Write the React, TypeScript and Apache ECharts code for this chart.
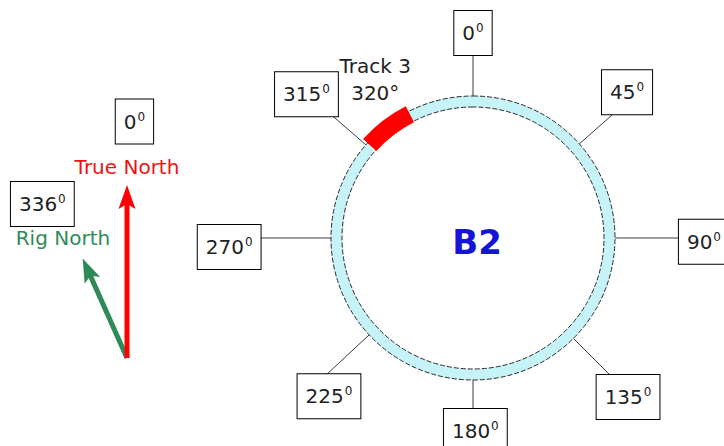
import React, { useEffect, useRef } from 'react';
import * as echarts from 'echarts';

// ---- data ----
const bearings = [0, 45, 90, 135, 180, 225, 270, 315];
const bearingLabels = ['0', '45', '90', '135', '180', '225', '270', '315'];
const trackName = 'Track 3';
const trackBearing = 320;
const wellName = 'B2';
const trueNorthBearing = 0;
const rigNorthBearing = 336;
const northLabels = ['True North', 'Rig North'];

// ---- layout (pixels / drawing tweaks) ----
const FONT = 'DejaVu Sans';
const CENTER = [473, 238];
const RING = [131, 142];
const labelRadius = [205, 212, 231, 222, 193, 214, 244, 220];
const labelAngleShift = [0, 1.6, 0.9, 0.7, -0.7, -2.7, -2.1, -4.2];
const spokeAngleShift = [0, 3.5, 0, 0, 0, 2, 0, -4];
const trackArc = [-8, 13];
const TRACK_RING = [130, 148];
const ARROW_BASE = [127, 358];
const trueNorthLen = 173;
const rigNorthLen = 109;
const HEAD = 'path://M0,0L9,24L0,19L-9,24Z';

const boxLabel = (fs = 20) => ({
  show: true,
  position: 'inside',
  backgroundColor: '#fff',
  borderColor: '#000',
  borderWidth: 1,
  padding: [11, 8, 11, 8],
  formatter: (p: any) => `{n|${p.name}}{s|0}`,
  rich: {
    n: { fontFamily: FONT, fontSize: fs, lineHeight: 22, color: '#222' },
    s: { fontFamily: FONT, fontSize: 12, lineHeight: 12, verticalAlign: 'top', color: '#222', padding: [0, 0, 0, 1] },
  },
});

const hidden = { color: 'rgba(0,0,0,0)', opacity: 1 };

export default function App() {
  const ref = useRef<HTMLDivElement>(null);
  useEffect(() => {
    if (!ref.current) return;
    const chart = echarts.init(ref.current, undefined, { renderer: 'svg' });

    const spokeSeries = bearings.map((b, i) => ({
      type: 'line',
      coordinateSystem: 'polar',
      polarIndex: 0,
      symbol: 'none',
      silent: true,
      z: 1,
      lineStyle: { color: '#3a3a3a', width: 1 },
      data: [
        [RING[1], b + spokeAngleShift[i]],
        [labelRadius[i], b + spokeAngleShift[i]],
      ],
    }));

    const trackStart = trackBearing + trackArc[0];
    const trackSpan = trackArc[1] - trackArc[0];
    const pieStart = (((90 - trackStart) % 360) + 360) % 360;

    const option: any = {
      animation: false,
      backgroundColor: '#fff',
      polar: [
        { center: CENTER, radius: 260 },
        { center: ARROW_BASE, radius: 260 },
      ],
      angleAxis: [
        { polarIndex: 0, type: 'value', min: 0, max: 360, startAngle: 90, clockwise: true, show: false },
        { polarIndex: 1, type: 'value', min: 0, max: 360, startAngle: 90, clockwise: true, show: false },
      ],
      radiusAxis: [
        { polarIndex: 0, type: 'value', min: 0, max: 260, show: false },
        { polarIndex: 1, type: 'value', min: 0, max: 260, show: false },
      ],
      series: [
        ...spokeSeries,
        {
          type: 'pie',
          center: CENTER,
          radius: RING,
          silent: true,
          z: 2,
          label: { show: false },
          labelLine: { show: false },
          itemStyle: { color: '#c6f3f7', borderColor: '#2a2a2a', borderWidth: 1, borderType: [5, 2] },
          data: [{ value: 1, name: 'ring' }],
        },
        {
          type: 'pie',
          center: CENTER,
          radius: TRACK_RING,
          startAngle: pieStart,
          clockwise: true,
          silent: true,
          z: 3,
          label: { show: false },
          labelLine: { show: false },
          data: [
            { value: trackSpan, name: trackName, itemStyle: { color: '#ff0000' } },
            { value: 360 - trackSpan, name: 'rest', itemStyle: { color: 'rgba(0,0,0,0)' } },
          ],
        },
        {
          type: 'scatter',
          coordinateSystem: 'polar',
          polarIndex: 0,
          symbolSize: 1,
          itemStyle: hidden,
          silent: true,
          z: 5,
          label: boxLabel(),
          data: bearings.map((b, i) => ({ name: bearingLabels[i], value: [labelRadius[i], b + labelAngleShift[i]] })),
        },
        {
          type: 'scatter',
          coordinateSystem: 'polar',
          polarIndex: 0,
          symbolSize: 1,
          itemStyle: hidden,
          silent: true,
          z: 5,
          label: {
            show: true,
            position: 'inside',
            fontFamily: FONT,
            fontSize: 20,
            lineHeight: 27,
            color: '#222',
            formatter: `${trackName}\n${trackBearing}°`,
          },
          data: [[186, 328.3]],
        },
        {
          type: 'scatter',
          coordinateSystem: 'polar',
          polarIndex: 0,
          symbolSize: 1,
          itemStyle: hidden,
          silent: true,
          z: 5,
          label: {
            show: true,
            position: 'inside',
            fontFamily: FONT,
            fontSize: 34,
            fontWeight: 'bold',
            color: '#1414d6',
            offset: [4, 4],
            formatter: wellName,
          },
          data: [[0, 0]],
        },
        // arrows
        {
          type: 'line',
          coordinateSystem: 'polar',
          polarIndex: 1,
          symbol: 'none',
          silent: true,
          z: 3,
          lineStyle: { color: '#ff0000', width: 5 },
          data: [[0, trueNorthBearing], [trueNorthLen - 12, trueNorthBearing]],
        },
        {
          type: 'line',
          coordinateSystem: 'polar',
          polarIndex: 1,
          symbol: 'none',
          silent: true,
          z: 2,
          lineStyle: { color: '#2e8b57', width: 5 },
          data: [[0, rigNorthBearing], [rigNorthLen - 12, rigNorthBearing]],
        },
        {
          type: 'scatter',
          coordinateSystem: 'polar',
          polarIndex: 1,
          symbol: HEAD,
          symbolSize: [17, 24],
          silent: true,
          z: 4,
          data: [
            { value: [trueNorthLen - 12, trueNorthBearing], symbolRotate: 360 - trueNorthBearing, itemStyle: { color: '#ff0000', opacity: 1 } },
            { value: [rigNorthLen - 12, rigNorthBearing], symbolRotate: 360 - rigNorthBearing, itemStyle: { color: '#2e8b57', opacity: 1 } },
          ],
        },
        {
          type: 'scatter',
          coordinateSystem: 'polar',
          polarIndex: 1,
          symbolSize: 1,
          itemStyle: hidden,
          silent: true,
          z: 5,
          label: { show: true, position: 'inside', fontFamily: FONT, fontSize: 20, formatter: (p: any) => p.name },
          data: [
            { name: northLabels[0], value: [191, 0], label: { color: '#ee1111' } },
            { name: northLabels[1], value: [136, 331.9], label: { color: '#2e8b57' } },
          ],
        },
        {
          type: 'scatter',
          coordinateSystem: 'polar',
          polarIndex: 1,
          symbolSize: 1,
          itemStyle: hidden,
          silent: true,
          z: 5,
          label: boxLabel(),
          data: [
            { name: String(trueNorthBearing), value: [236.6, 1.8] },
            { name: String(rigNorthBearing), value: [175.7, 331.2] },
          ],
        },
      ],
    };
    chart.setOption(option);
    return () => chart.dispose();
  }, []);
  return (
    <div
      ref={ref}
      style={{ position: 'fixed', left: 0, top: 0, width: 724, height: 446, background: '#fff' }}
    />
  );
}
